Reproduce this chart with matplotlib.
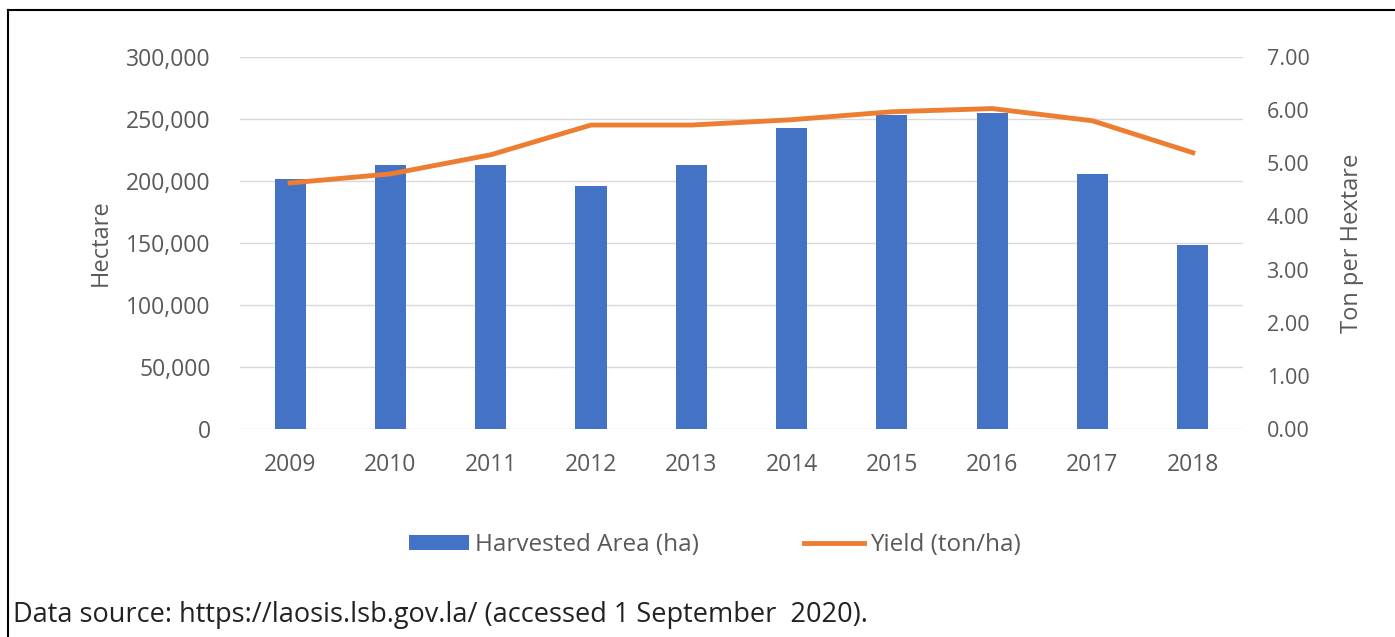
import matplotlib
matplotlib.use("Agg")
import matplotlib.pyplot as plt
from matplotlib.lines import Line2D
from matplotlib.patches import Patch
from matplotlib.ticker import FuncFormatter

years = ["2009", "2010", "2011", "2012", "2013", "2014", "2015", "2016", "2017", "2018"]
harvested_area = [202000, 213000, 213000, 196000, 213000, 243000, 253000, 255000, 206000, 148000]
yield_tph = [4.63, 4.80, 5.16, 5.72, 5.72, 5.82, 5.97, 6.03, 5.80, 5.20]

blue = "#4472C4"
orange = "#ED7D31"
gray = "#595959"
plt.rcParams['font.family'] = ['Open Sans', 'DejaVu Sans']

fig = plt.figure(figsize=(13.95, 6.37), dpi=100)
ax = fig.add_axes([0.172, 0.3265, 0.719, 0.584])
x = list(range(len(years)))
ax.bar(x, harvested_area, width=0.31, color=blue, zorder=2)
ax.set_xlim(-0.5, len(years) - 0.5)
ax.set_ylim(0, 300000)
ax.set_yticks(range(0, 300001, 50000))
ax.yaxis.set_major_formatter(FuncFormatter(lambda v, p: f"{int(v):,}"))
ax.set_xticks(x)
ax.set_xticklabels(years)
ax.grid(axis='y', color="#D9D9D9", linewidth=1, zorder=0)
for s in ax.spines.values():
    s.set_visible(False)
ax.tick_params(axis='y', length=0, labelsize=16.5, labelcolor=gray, pad=21)
ax.tick_params(axis='x', length=0, labelsize=16.5, labelcolor=gray, pad=17)
ax.set_ylabel("Hectare", fontsize=17, color=gray, labelpad=10)

ax2 = ax.twinx()
ax2.plot(x, yield_tph, color=orange, linewidth=3.5, zorder=3)
ax2.set_ylim(0, 7)
ax2.set_yticks([0, 1, 2, 3, 4, 5, 6, 7])
ax2.yaxis.set_major_formatter(FuncFormatter(lambda v, p: f"{v:.2f}"))
for s in ax2.spines.values():
    s.set_visible(False)
ax2.tick_params(axis='y', length=0, labelsize=15.5, labelcolor=gray, pad=17)
ax2.set_ylabel("Ton per Hextare", fontsize=17, color=gray, labelpad=22)

handles = [Patch(facecolor=blue, label="Harvested Area (ha)"),
           Line2D([0], [0], color=orange, linewidth=3.5, label="Yield (ton/ha)")]
fig.legend(handles=handles, loc='center', bbox_to_anchor=(0.5125, 0.144), ncol=2,
           frameon=False, fontsize=17.5, labelcolor=gray, handlelength=2.47,
           handleheight=0.55, columnspacing=4.3, handletextpad=0.25)

fig.text(0.009, 0.012, "Data source: https://laosis.lsb.gov.la/ (accessed 1 September  2020).",
         fontsize=19.5, color="#222222", ha='left', va='bottom')

fig.add_artist(Line2D([0.006, 0.006], [0.0, 0.984], color='black', linewidth=1.5, transform=fig.transFigure))
fig.add_artist(Line2D([0.006, 1.0], [0.984, 0.984], color='black', linewidth=1.5, transform=fig.transFigure))

fig.savefig("out.png", dpi=100)
